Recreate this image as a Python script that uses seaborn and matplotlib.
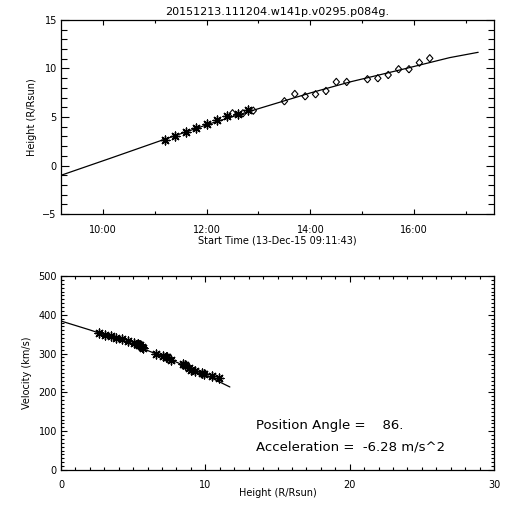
import matplotlib
matplotlib.use("Agg")
import matplotlib.pyplot as plt
import matplotlib.dates as mdates
from matplotlib.ticker import MultipleLocator
import seaborn as sns
import pandas as pd

# ---------------- data ----------------
title = "20151213.111204.w141p.v0295.p084g."
day = "2015-12-13"

c2_times = ["11:12", "11:24", "11:36", "11:48", "12:00", "12:12", "12:24", "12:36", "12:48"]
c2_heights = [2.63, 3.07, 3.45, 3.87, 4.25, 4.69, 5.07, 5.31, 5.72]

c3_times = ["12:30", "12:42", "12:54", "13:30", "13:42", "13:54", "14:06", "14:18", "14:30",
            "14:42", "15:06", "15:18", "15:30", "15:42", "15:54", "16:06", "16:18"]
c3_heights = [5.38, 5.38, 5.65, 6.62, 7.37, 7.13, 7.34, 7.68, 8.61,
              8.61, 8.89, 8.99, 9.33, 9.92, 9.92, 10.60, 11.05]

fit_times = ["09:11:43", "10:09:14", "11:06:54", "12:04:37", "13:02:17", "14:00:00",
             "14:46:00", "15:44:00", "16:41:00", "17:14:00"]
fit_heights = [-1.01, 0.76, 2.56, 4.33, 5.92, 7.48, 8.62, 9.86, 11.12, 11.67]

vel_heights = [2.60, 3.03, 3.43, 3.80, 4.20, 4.62, 5.04, 5.33, 5.38, 5.45, 5.62, 5.70, 6.58,
               7.10, 7.25, 7.35, 7.64, 8.45, 8.60, 8.88, 8.99, 9.28, 9.80, 9.90, 10.47, 10.98]
velocities = [352, 348, 345, 341, 337, 332, 328, 325, 323, 321, 317, 315, 300,
              293, 291, 290, 283, 274, 270, 262, 258, 255, 249, 247, 242, 237]

vfit_heights = [0, 2, 4, 6, 8, 10, 11.7]
vfit_vel = [384, 361, 336, 308, 278, 245, 214]

time_ticks = ["10:00", "12:00", "14:00", "16:00"]
x_start, x_end = "09:11:43", "17:32:17"
angle_text = "Position Angle =    86."
accel_text = "Acceleration =  -6.28 m/s^2"

# ---------------- style ----------------
sns.set_theme(style="white")
plt.rcParams["font.family"] = ["DejaVu Sans"]
plt.rcParams.update({
    "axes.edgecolor": "black", "axes.linewidth": 0.9,
    "xtick.color": "black", "ytick.color": "black",
    "xtick.direction": "in", "ytick.direction": "in",
    "text.color": "black", "axes.labelcolor": "black",
})

def ts(t):
    return pd.to_datetime(f"{day} {t}")

c2 = pd.DataFrame({"time": [ts(t) for t in c2_times], "height": c2_heights})
c3 = pd.DataFrame({"time": [ts(t) for t in c3_times], "height": c3_heights})
fit = pd.DataFrame({"time": [ts(t) for t in fit_times], "height": fit_heights})
vel = pd.DataFrame({"height": vel_heights, "velocity": velocities})
vfit = pd.DataFrame({"height": vfit_heights, "velocity": vfit_vel})

star = (8, 2, 0)
diamond = [(0, -1), (0.86, 0), (0, 1), (-0.86, 0), (0, -1)]

fig = plt.figure(figsize=(5.12, 5.12), dpi=100)
W = 512.0
ax1 = fig.add_axes([61 / W, 1 - 214 / W, 433 / W, 194 / W])
ax2 = fig.add_axes([61 / W, 1 - 470 / W, 433 / W, 194 / W])

# ---- top panel ----
sns.lineplot(data=fit, x="time", y="height", ax=ax1, color="black", lw=0.9, sort=False)
sns.scatterplot(data=c2, x="time", y="height", ax=ax1, marker=star, s=40,
                color="black", linewidth=1.0)
sns.scatterplot(data=c3, x="time", y="height", ax=ax1, marker=diamond, s=28,
                facecolor="none", edgecolor="black", linewidth=0.8)
ax1.set_xlim(ts(x_start), ts(x_end))
ax1.set_ylim(-5, 15)
ax1.set_xticks([ts(t) for t in time_ticks])
ax1.set_xticklabels(time_ticks)
ax1.xaxis.set_minor_locator(mdates.HourLocator())
ax1.yaxis.set_major_locator(MultipleLocator(5))
ax1.yaxis.set_minor_locator(MultipleLocator(1))
ax1.tick_params(axis="x", which="major", length=3.5, width=0.8, pad=8, labelsize=7,
                top=True, bottom=True)
ax1.tick_params(axis="x", which="minor", length=2, width=0.8, top=True, bottom=True)
ax1.tick_params(axis="y", which="major", length=6, width=0.8, pad=3, labelsize=7,
                left=True, right=True)
ax1.tick_params(axis="y", which="minor", length=4, width=0.8, left=True, right=True)
ax1.set_xlabel("Start Time (13-Dec-15 09:11:43)", fontsize=7)
ax1.set_ylabel("Height (R/Rsun)", fontsize=7)
ax1.xaxis.set_label_coords(0.5, -0.113)
ax1.yaxis.set_label_coords(-0.067, 0.5)
ax1.xaxis.label.set_va("top")
ax1.yaxis.label.set_va("center")

# ---- bottom panel ----
sns.lineplot(data=vfit, x="height", y="velocity", ax=ax2, color="black", lw=0.9, sort=False)
sns.scatterplot(data=vel, x="height", y="velocity", ax=ax2, marker=star, s=40,
                color="black", linewidth=1.0)
ax2.set_xlim(0, 30)
ax2.set_ylim(0, 500)
ax2.xaxis.set_major_locator(MultipleLocator(10))
ax2.xaxis.set_minor_locator(MultipleLocator(1))
ax2.yaxis.set_major_locator(MultipleLocator(100))
ax2.yaxis.set_minor_locator(MultipleLocator(10))
ax2.tick_params(axis="x", which="major", length=4, width=0.8, pad=7, labelsize=7,
                top=True, bottom=True)
ax2.tick_params(axis="x", which="minor", length=2.5, width=0.8, top=True, bottom=True)
ax2.tick_params(axis="y", which="major", length=4, width=0.8, pad=3, labelsize=7,
                left=True, right=True)
ax2.tick_params(axis="y", which="minor", length=2, width=0.8, left=True, right=True)
ax2.set_xlabel("Height (R/Rsun)", fontsize=7)
ax2.set_ylabel("Velocity (km/s)", fontsize=7)
ax2.xaxis.set_label_coords(0.5, -0.093)
ax2.yaxis.set_label_coords(-0.0785, 0.5)
ax2.xaxis.label.set_va("top")
ax2.yaxis.label.set_va("center")
ax2.text(13.5, 115, angle_text, fontsize=9.5, va="center", ha="left")
ax2.text(13.5, 58, accel_text, fontsize=9.5, va="center", ha="left")

fig.text(277 / W, 1 - 12 / W, title, ha="center", va="center", fontsize=8)

fig.savefig("out.png", dpi=100, facecolor="white")
